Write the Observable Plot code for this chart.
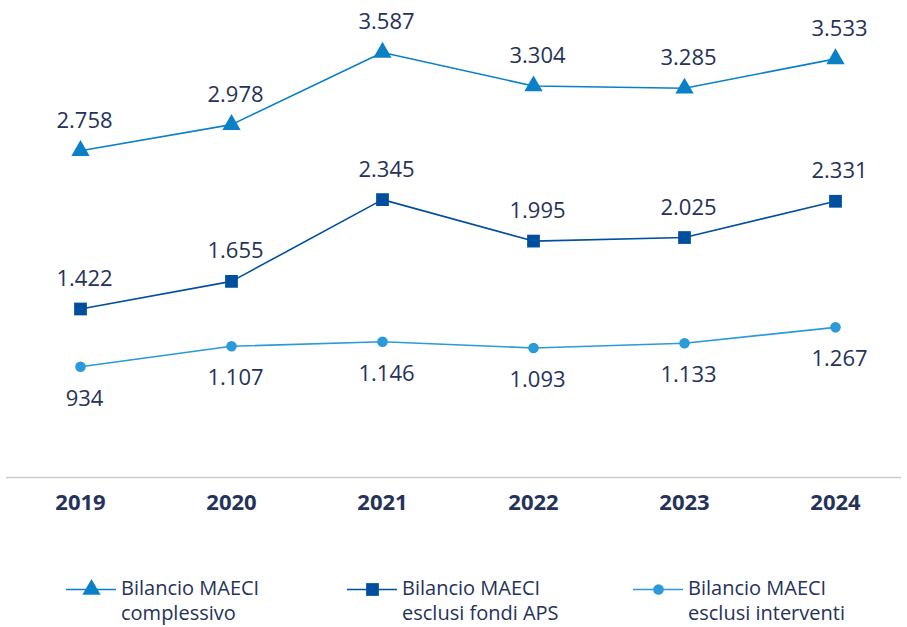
<!DOCTYPE html>
<html><head><meta charset="utf-8">
<script src="https://cdn.jsdelivr.net/npm/d3@7"></script>
<script src="https://cdn.jsdelivr.net/npm/@observablehq/plot@0.6"></script>
<style>
body{margin:0;background:#fff;font-family:"Open Sans",sans-serif;}
#wrap{position:relative;width:907px;height:627px;}
.leg{position:absolute;top:575px;display:flex;align-items:flex-start;color:#25325a;font-size:20px;line-height:25px;}
.leg svg{margin-top:4px;margin-right:5px;}
</style></head><body>
<div id="wrap"><div id="chart"></div><div id="legend"></div></div>
<script>
const years = ["2019","2020","2021","2022","2023","2024"];
const complessivo = [2758, 2978, 3587, 3304, 3285, 3533];
const esclusiAPS = [1422, 1655, 2345, 1995, 2025, 2331];
const esclusiInterventi = [934, 1107, 1146, 1093, 1133, 1267];
const seriesNames = ["Bilancio MAECI complessivo", "Bilancio MAECI esclusi fondi APS", "Bilancio MAECI esclusi interventi"];
const legendLines = [["Bilancio MAECI","complessivo"],["Bilancio MAECI","esclusi fondi APS"],["Bilancio MAECI","esclusi interventi"]];
const colors = ["#0a80c8", "#004f9f", "#2a9ad8"];
const symbols = ["triangle", "square", "circle"];

const fmt = d3.formatLocale({decimal:",", thousands:".", grouping:[3], currency:["","€"]}).format(",d");
const allVals = [complessivo, esclusiAPS, esclusiInterventi];
const data = allVals.flatMap((vals, s) => vals.map((v, i) => ({year: years[i], value: v, series: seriesNames[s], si: s})));
const textColor = "#25325a";

const marks = [
  Plot.ruleY([0], {stroke:"#cccccc", strokeWidth:1.5, insetLeft:-74, insetRight:-66}),
];
allVals.forEach((vals, s) => {
  const d = data.filter(r => r.si === s);
  marks.push(Plot.line(d, {x:"year", y:"value", stroke:colors[s], strokeWidth:1.6}));
});
marks.push(Plot.dot(data.filter(d=>d.si===0), {x:"year", y:"value", symbol:"triangle", r:6.8, fill:colors[0], stroke:"none"}));
marks.push(Plot.dot(data.filter(d=>d.si===1), {x:"year", y:"value", symbol:"square", r:7.2, fill:colors[1], stroke:"none"}));
marks.push(Plot.dot(data.filter(d=>d.si===2), {x:"year", y:"value", symbol:"circle", r:5.3, fill:colors[2], stroke:"none"}));
marks.push(Plot.text(data.filter(d=>d.si<2), {x:"year", y:"value", text:d=>fmt(d.value), dy:-30, dx:4, fill:textColor, fontSize:22}));
marks.push(Plot.text(data.filter(d=>d.si===2), {x:"year", y:"value", text:d=>fmt(d.value), dy:32, dx:4, fill:textColor, fontSize:22}));
marks.push(Plot.axisX({tickSize:0, tickPadding:17, fontSize:22, fontWeight:"bold", fill:textColor, label:null}));

const chart = Plot.plot({
  width:907, height:530,
  marginLeft:80, marginRight:72, marginTop:3, marginBottom:53,
  style:{fontFamily:"'Open Sans', sans-serif", color:textColor, background:"#fff", overflow:"visible"},
  x:{type:"point", domain:years, padding:0},
  y:{domain:[0,4000], axis:null},
  marks
});
document.getElementById("chart").appendChild(chart);

const legPos = [66, 347, 633];
const legend = document.getElementById("legend");
seriesNames.forEach((name, s) => {
  const item = document.createElement("div");
  item.className = "leg";
  item.style.left = legPos[s] + "px";
  const sw = Plot.plot({
    width:50, height:20, margin:0,
    x:{domain:[0,1], axis:null}, y:{domain:[0,1], axis:null},
    style:{overflow:"visible"},
    marks:[
      Plot.ruleY([0.5], {stroke:colors[s], strokeWidth:1.6}),
      Plot.dot([[0.5,0.5]], {symbol:symbols[s], r:[6.8,7.2,5.3][s], fill:colors[s], stroke:"none"})
    ]
  });
  item.appendChild(sw);
  const t = document.createElement("div");
  t.innerHTML = legendLines[s].join("<br>");
  item.appendChild(t);
  legend.appendChild(item);
});
</script>
</body></html>
